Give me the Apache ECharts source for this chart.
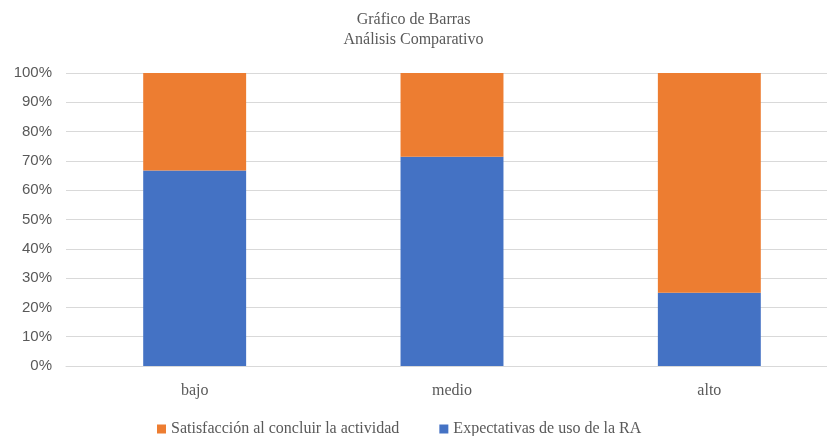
<!DOCTYPE html>
<html>
<head>
<meta charset="utf-8">
<script src="https://cdn.jsdelivr.net/npm/echarts@6/dist/echarts.min.js"></script>
<style>
  html, body { margin: 0; padding: 0; background: #fff; }
  #chart { width: 827px; height: 436px; }
</style>
</head>
<body>
<div id="chart"></div>
<script>
var categories = ['bajo', 'medio', 'alto'];
// porcentaje de cada nivel
var expectativas = [66.7, 71.4, 25];
var satisfaccion = [33.3, 28.6, 75];
var yTicks = [0, 10, 20, 30, 40, 50, 60, 70, 80, 90, 100];

var myChart = echarts.init(document.getElementById('chart'));
var serif = '"Liberation Serif", "DejaVu Serif", serif';
var option = {
    animation: false,
    title: {
        text: 'Gráfico de Barras\nAnálisis Comparativo',
        left: 'center',
        top: 5,
        textStyle: {
            fontFamily: serif,
            fontSize: 16,
            fontWeight: 'normal',
            color: '#595959',
            lineHeight: 20
        }
    },
    legend: {
        data: ['Satisfacción al concluir la actividad', 'Expectativas de uso de la RA'],
        left: 152,
        top: 416,
        itemWidth: 9,
        itemHeight: 9,
        itemGap: 40,
        icon: 'rect',
        textStyle: {
            fontFamily: serif,
            fontSize: 16,
            color: '#595959'
        }
    },
    grid: {
        left: 66,
        top: 73,
        width: 772,
        height: 293,
        outerBoundsMode: 'none'
    },
    xAxis: {
        type: 'category',
        data: categories,
        axisTick: { show: false },
        axisLine: { lineStyle: { color: '#d9d9d9' } },
        axisLabel: {
            fontFamily: serif,
            fontSize: 16,
            color: '#595959',
            margin: 17
        }
    },
    yAxis: {
        type: 'value',
        min: 0,
        max: 100,
        interval: 10,
        axisLine: { show: false },
        axisTick: { show: false },
        splitLine: { lineStyle: { color: '#d9d9d9', width: 1 } },
        axisLabel: {
            fontFamily: '"Liberation Sans", Arial, sans-serif',
            fontSize: 15,
            color: '#595959',
            margin: 14,
            formatter: function (v) {
                return yTicks.indexOf(v) >= 0 ? v + '%' : '';
            }
        }
    },
    series: [{
        name: 'Expectativas de uso de la RA',
        type: 'bar',
        stack: 'total',
        barWidth: '40%',
        itemStyle: { color: '#4472c4' },
        data: expectativas
    }, {
        name: 'Satisfacción al concluir la actividad',
        type: 'bar',
        stack: 'total',
        barWidth: '40%',
        itemStyle: { color: '#ed7d31' },
        data: satisfaccion
    }]
};
myChart.setOption(option);
</script>
</body>
</html>
